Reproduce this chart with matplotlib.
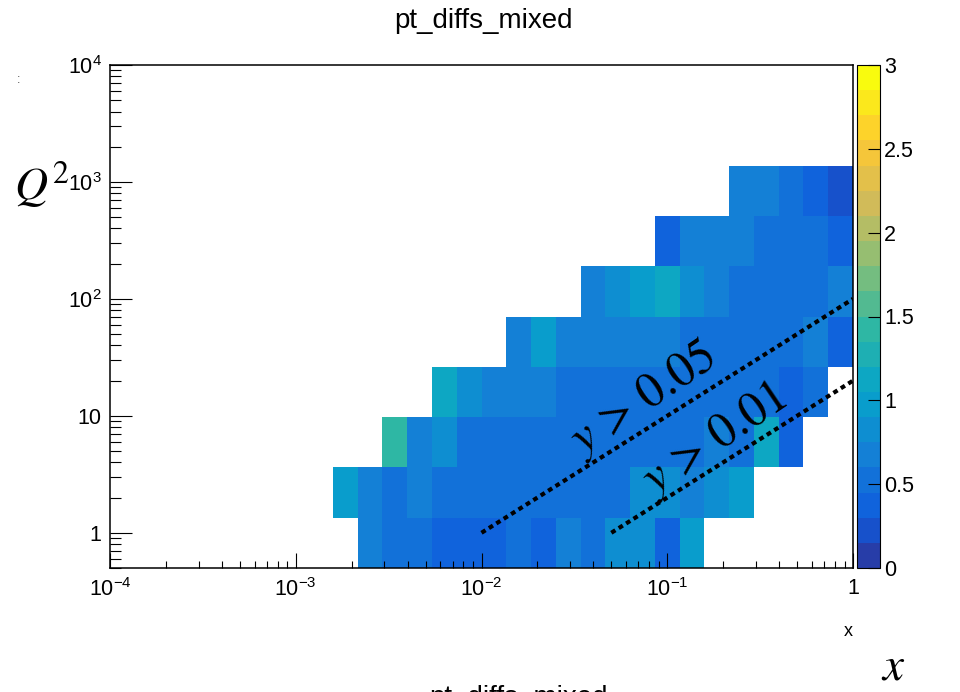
import numpy as np
import matplotlib
matplotlib.use("Agg")
import matplotlib.pyplot as plt
from matplotlib.colors import LinearSegmentedColormap, ListedColormap, BoundaryNorm
from matplotlib.ticker import FixedLocator, FixedFormatter, NullFormatter, NullLocator

# ---------------- data ----------------
title = "pt_diffs_mixed"
x_log_min, x_log_max, n_xbins = -4, 0, 30          # log10(x) binning
q2_min, q2_max, n_q2bins = 0.5, 1e4, 10              # Q^2 binning (log)

# first filled x-bin of each Q^2 row and the cell values of that row
row_start = [10, 9, 11, 13, 16, 19, 22, 25]
row0 = [0.68, 0.52, 0.52, 0.38, 0.38, 0.38, 0.52, 0.38, 0.68, 0.52, 0.82, 0.82, 0.38, 0.98]
row1 = [0.98, 0.68, 0.52, 0.68, 0.52, 0.52, 0.52, 0.52, 0.52, 0.52, 0.52, 0.52, 0.82, 0.82,
        0.68, 0.82, 0.98]
row2 = [1.42, 0.68, 0.82, 0.52, 0.52, 0.52, 0.52, 0.52, 0.52, 0.52, 0.52, 0.52, 0.52, 0.68,
        0.52, 1.12, 0.38]
row3 = [1.12, 0.82, 0.68, 0.68, 0.68, 0.52, 0.52, 0.52, 0.52, 0.52, 0.52, 0.52, 0.52, 0.52,
        0.38, 0.52]
row4 = [0.68, 0.98, 0.68, 0.68, 0.68, 0.68, 0.68, 0.52, 0.52, 0.52, 0.52, 0.52, 0.68, 0.38]
row5 = [0.68, 0.82, 0.98, 1.12, 0.82, 0.68, 0.52, 0.52, 0.52, 0.52, 0.68]
row6 = [0.38, 0.68, 0.68, 0.68, 0.52, 0.52, 0.52, 0.38]
row7 = [0.68, 0.68, 0.52, 0.38, 0.22]
rows = [row0, row1, row2, row3, row4, row5, row6, row7]

# y-cut lines: Q^2 endpoints versus x
cut05_x = [0.01, 1.0]
cut05_q2 = [1.0, 100.0]
cut01_x = [0.05, 1.0]
cut01_q2 = [1.0, 20.0]

x_ticks = [1e-4, 1e-3, 1e-2, 1e-1, 1]
x_ticklabels = [r"$10^{-4}$", r"$10^{-3}$", r"$10^{-2}$", r"$10^{-1}$", "1"]
y_ticks = [1, 10, 100, 1e3, 1e4]
y_ticklabels = ["1", "10", r"$10^{2}$", r"$10^{3}$", r"$10^{4}$"]
z_min, z_max, n_levels = 0.0, 3.0, 20
cbar_ticks = [0, 0.5, 1, 1.5, 2, 2.5, 3]
cbar_ticklabels = ["0", "0.5", "1", "1.5", "2", "2.5", "3"]

# ---------------- style ----------------
plt.rcParams["font.family"] = ["Liberation Sans", "DejaVu Sans"]
plt.rcParams["mathtext.fontset"] = "custom"
plt.rcParams["mathtext.rm"] = "Liberation Sans"
plt.rcParams["mathtext.it"] = "Liberation Sans:italic"
plt.rcParams["mathtext.bf"] = "Liberation Sans:bold"

# ROOT kBird palette
stops = [0.0, 0.125, 0.25, 0.375, 0.5, 0.625, 0.75, 0.875, 1.0]
red = [0.2082, 0.0592, 0.0780, 0.0232, 0.1802, 0.5301, 0.8186, 0.9956, 0.9764]
green = [0.1664, 0.3599, 0.5041, 0.6419, 0.7178, 0.7492, 0.7328, 0.7862, 0.9832]
blue = [0.5293, 0.8684, 0.8385, 0.7914, 0.6425, 0.4662, 0.3499, 0.1968, 0.0539]
bird = LinearSegmentedColormap.from_list(
    "bird", list(zip(stops, zip(red, green, blue))), N=255)
band_colors = [bird(int((i + 0.99) * 255 / n_levels) / 254.0) for i in range(n_levels)]
cmap = ListedColormap(band_colors)
levels = np.linspace(z_min, z_max, n_levels + 1)
norm = BoundaryNorm(levels, n_levels)

# ---------------- build histogram ----------------
x_edges = np.logspace(x_log_min, x_log_max, n_xbins + 1)
q2_edges = np.logspace(np.log10(q2_min), np.log10(q2_max), n_q2bins + 1)
Z = np.full((n_q2bins, n_xbins), np.nan)
for j, (s, vals) in enumerate(zip(row_start, rows)):
    Z[j, s:s + len(vals)] = vals
Z = np.ma.masked_invalid(Z)

W, H = 960, 692
fig = plt.figure(figsize=(W / 100, H / 100), dpi=100)
L, R, T, B = 110, 853, 65, 568
ax = fig.add_axes([L / W, 1 - B / H, (R - L) / W, (B - T) / H])
mesh = ax.pcolormesh(x_edges, q2_edges, Z, cmap=cmap, norm=norm,
                     linewidth=0, antialiased=False)
ax.set_xscale("log")
ax.set_yscale("log")
ax.set_xlim(10 ** x_log_min, 10 ** x_log_max)
ax.set_ylim(q2_min, q2_max)

ax.xaxis.set_major_locator(FixedLocator(x_ticks))
ax.xaxis.set_major_formatter(FixedFormatter(x_ticklabels))
ax.yaxis.set_major_locator(FixedLocator(y_ticks))
ax.yaxis.set_major_formatter(FixedFormatter(y_ticklabels))
ax.xaxis.set_minor_formatter(NullFormatter())
ax.yaxis.set_minor_formatter(NullFormatter())
ax.tick_params(axis="x", which="major", direction="in", length=10.8, width=0.8,
               pad=7, labelsize=15.5, top=False)
ax.tick_params(axis="x", which="minor", direction="in", length=5.4, width=0.8, top=False)
ax.tick_params(axis="y", which="major", direction="in", length=16, width=0.8,
               pad=6, labelsize=15.5, right=False)
ax.tick_params(axis="y", which="minor", direction="in", length=8, width=0.8, right=False)
for sp in ax.spines.values():
    sp.set_linewidth(1.1)

# cut lines (dotted)
line_kw = dict(color="black", lw=3.0, linestyle=(0, (1.15, 0.95)), dash_capstyle="butt",
               zorder=5)
ax.plot(cut05_x, cut05_q2, **line_kw)
ax.plot(cut01_x, cut01_q2, **line_kw)
ax.text(0.0745, 13.8, r"$y\,>\,0.05$", rotation=34, rotation_mode="anchor",
        ha="center", va="center", fontsize=35, math_fontfamily="stix", zorder=6)
ax.text(0.18, 6.2, r"$y\,>\,0.01$", rotation=34, rotation_mode="anchor",
        ha="center", va="center", fontsize=35, math_fontfamily="stix", zorder=6)

# colour bar
cax = fig.add_axes([857 / W, 1 - B / H, 23 / W, (B - T) / H])
cb = fig.colorbar(mesh, cax=cax, ticks=cbar_ticks)
cb.ax.set_yticklabels(cbar_ticklabels)
cb.ax.yaxis.set_minor_locator(NullLocator())
cb.ax.tick_params(direction="in", length=9, width=0.8, labelsize=15.5, pad=3)
cb.outline.set_linewidth(0.8)

# titles / annotations
fig.text(483 / W, 1 - 21 / H, title, ha="center", va="center", fontsize=20)
fig.text(518 / W, 1 - 685 / H, title, ha="center", va="top", fontsize=20)
fig.text(14 / W, 1 - 185 / H, r"$Q^2$", ha="left", va="center", fontsize=33,
         math_fontfamily="stix")
fig.text(893 / W, 1 - 668 / H, r"$x$", ha="center", va="center", fontsize=34,
         math_fontfamily="stix")
fig.text(848 / W, 1 - 632 / H, "x", ha="center", va="center", fontsize=13)
fig.text(19 / W, 1 - 80 / H, ":", ha="center", va="center", fontsize=9, color="0.3")

fig.savefig("out.png", dpi=100)
